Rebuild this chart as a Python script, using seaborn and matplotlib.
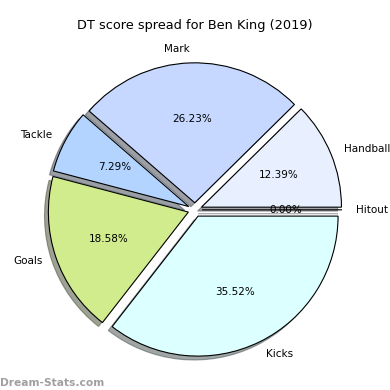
import matplotlib
matplotlib.use("Agg")
import matplotlib.pyplot as plt
import seaborn as sns

sns.set_style("white")

categorias = ["Hitout", "Handball", "Mark", "Tackle", "Goals", "Kicks"]
percentuais = [0.0, 12.39, 26.23, 7.29, 18.58, 35.52]
cores = ["#f0e0ff", "#e8f0ff", "#c6d8ff", "#b2d4ff", "#d0ec8c", "#dcffff"]
explodir = [0.05, 0.05, 0.05, 0.05, 0.05, 0.05]

fig = plt.figure(figsize=(3.9, 3.9), dpi=100)
ax = fig.add_axes([0, -0.038, 1, 1])
ax.pie(
    percentuais,
    labels=categorias,
    colors=cores,
    explode=explodir,
    autopct="%1.2f%%",
    startangle=0,
    shadow=True,
    wedgeprops={"edgecolor": "black", "linewidth": 0.8},
    textprops={"fontsize": 7.5, "color": "black"},
)
ax.set_xlim(-1.393, 1.393)
ax.set_ylim(-1.393, 1.393)
ax.set_aspect("equal")
ax.axis("off")
fig.text(0.5, 0.935, "DT score spread for Ben King (2019)", fontsize=9.3,
         color="black", ha="center", va="center")
fig.text(0.0, 0.01, "Dream-Stats.com", fontsize=7.7, color="#a0a0a0", fontweight="bold")
plt.savefig("out.png", dpi=100)
